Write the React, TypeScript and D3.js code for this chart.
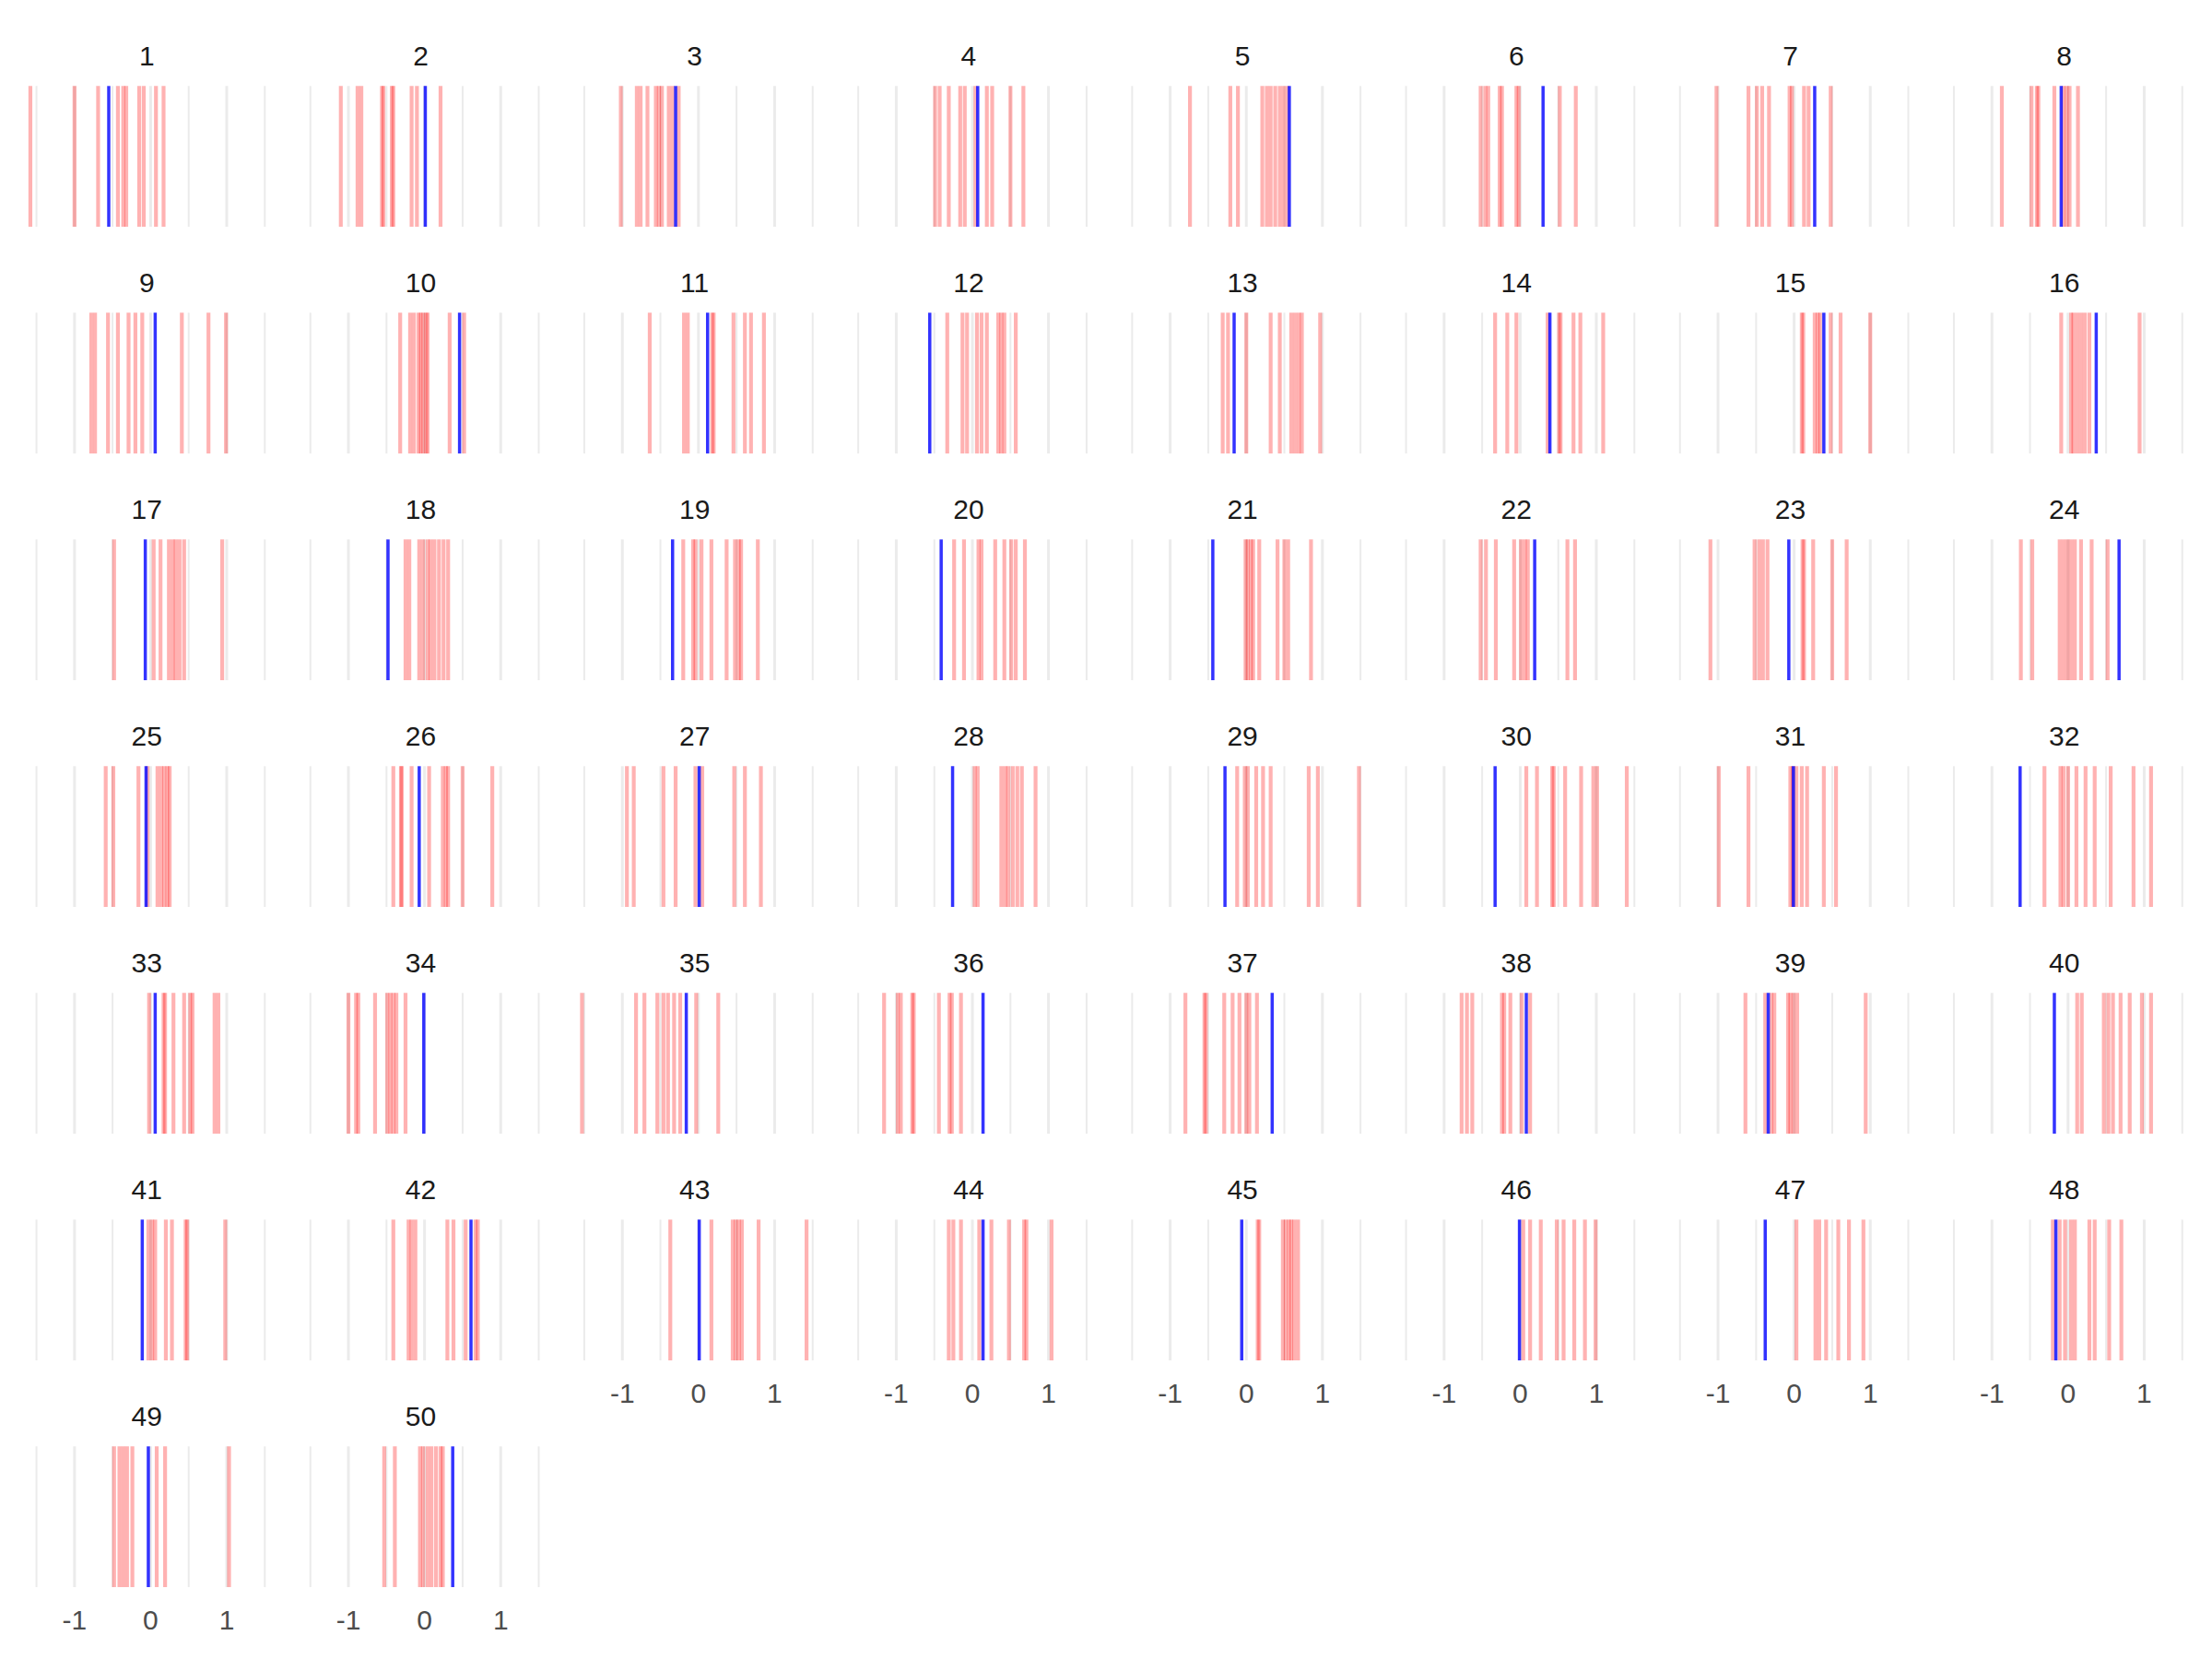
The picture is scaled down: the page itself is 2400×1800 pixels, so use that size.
import * as d3 from "d3";

// facet labels 1..50
const facetLabels = d3.range(1, 51).map(String);

// blue line per facet
const blueValues = [
  -0.55, 0.01, -0.3, 0.07, 0.565, 0.3, 0.27, -0.09,
  0.06, 0.46, 0.12, -0.56, -0.16, 0.39, 0.39, 0.37,
  -0.07, -0.48, -0.34, -0.41, -0.44, 0.19, -0.07, 0.67,
  -0.06, -0.07, 0.01, -0.26, -0.28, -0.33, -0.01, -0.63,
  0.06, -0.01, -0.16, 0.14, 0.34, 0.08, -0.34, -0.18,
  -0.11, 0.61, 0.01, 0.14, -0.06, -0.01, -0.38, -0.16,
  -0.03, 0.37,
];

// red lines per facet
const redValues: number[][] = [
  [-1.58, -1.0, -0.69, -0.43, -0.36, -0.32, -0.15, -0.09, 0.07, 0.17],
  [-1.1, -0.88, -0.83, -0.56, -0.54, -0.43, -0.41, -0.17, -0.1, 0.21],
  [-1.02, -0.81, -0.76, -0.67, -0.56, -0.52, -0.48, -0.39, -0.34, -0.26],
  [-0.49, -0.43, -0.31, -0.16, -0.1, 0.04, 0.19, 0.26, 0.5, 0.67],
  [-0.74, -0.21, -0.11, 0.21, 0.27, 0.32, 0.38, 0.44, 0.49, 0.54],
  [-0.52, -0.46, -0.42, -0.27, -0.24, -0.05, -0.02, 0.52, 0.73],
  [-1.02, -0.6, -0.49, -0.42, -0.33, -0.06, -0.03, 0.13, 0.19, 0.48],
  [-0.87, -0.48, -0.41, -0.39, -0.18, -0.06, -0.02, 0.02, 0.13],
  [-0.78, -0.73, -0.56, -0.43, -0.29, -0.2, -0.11, 0.41, 0.76, 0.99],
  [-0.32, -0.19, -0.14, -0.08, -0.05, -0.02, 0.02, 0.04, 0.33, 0.52],
  [-0.64, -0.19, -0.14, 0.18, 0.2, 0.46, 0.61, 0.69, 0.86],
  [-0.33, -0.13, -0.07, 0.06, 0.12, 0.19, 0.34, 0.38, 0.42, 0.57],
  [-0.31, -0.24, 0.0, 0.32, 0.44, 0.59, 0.64, 0.69, 0.73, 0.97],
  [-0.33, -0.17, -0.05, 0.36, 0.51, 0.53, 0.7, 0.79, 1.09],
  [0.1, 0.12, 0.27, 0.31, 0.34, 0.48, 0.61, 1.0],
  [-0.09, 0.04, 0.07, 0.12, 0.17, 0.22, 0.28, 0.94],
  [-0.48, 0.04, 0.13, 0.24, 0.29, 0.33, 0.38, 0.44, 0.94],
  [-0.25, -0.2, -0.07, -0.02, 0.04, 0.08, 0.13, 0.19, 0.25, 0.31],
  [-0.2, -0.07, -0.04, 0.04, 0.17, 0.37, 0.48, 0.53, 0.56, 0.78],
  [-0.24, -0.11, 0.08, 0.12, 0.3, 0.42, 0.51, 0.57, 0.69],
  [-0.01, 0.02, 0.06, 0.09, 0.17, 0.41, 0.5, 0.55, 0.85],
  [-0.52, -0.45, -0.32, -0.08, 0.01, 0.06, 0.1, 0.62, 0.72],
  [-1.1, -0.52, -0.46, -0.41, -0.35, 0.11, 0.13, 0.25, 0.5, 0.69],
  [-0.62, -0.47, -0.11, -0.06, -0.01, 0.04, 0.09, 0.17, 0.31, 0.52],
  [-0.59, -0.49, -0.16, -0.04, 0.09, 0.14, 0.18, 0.22, 0.25],
  [-0.41, -0.31, -0.3, -0.17, 0.06, 0.24, 0.28, 0.31, 0.5, 0.89],
  [-0.94, -0.85, -0.46, -0.3, -0.04, 0.05, 0.47, 0.61, 0.82],
  [0.03, 0.07, 0.38, 0.43, 0.47, 0.53, 0.59, 0.65, 0.83],
  [-0.12, -0.02, 0.02, 0.13, 0.22, 0.32, 0.82, 0.94, 1.48],
  [0.08, 0.22, 0.42, 0.44, 0.59, 0.8, 0.96, 1.01, 1.4],
  [-0.99, -0.6, -0.05, -0.02, 0.03, 0.1, 0.17, 0.39, 0.55],
  [-0.31, -0.1, -0.06, 0.0, 0.11, 0.23, 0.35, 0.56, 0.86, 1.09],
  [-0.02, 0.17, 0.19, 0.3, 0.44, 0.52, 0.55, 0.84, 0.89],
  [-1.0, -0.9, -0.87, -0.65, -0.49, -0.45, -0.41, -0.37, -0.25],
  [-1.53, -0.82, -0.71, -0.54, -0.46, -0.4, -0.32, -0.24, -0.03, 0.26],
  [-1.16, -0.98, -0.94, -0.79, -0.77, -0.44, -0.3, -0.27, -0.15],
  [-0.8, -0.55, -0.53, -0.29, -0.18, -0.09, 0.0, 0.04, 0.14],
  [-0.77, -0.7, -0.63, -0.24, -0.21, -0.13, 0.02, 0.13],
  [-0.64, -0.38, -0.3, -0.26, -0.08, -0.05, -0.01, 0.04, 0.94],
  [0.12, 0.18, 0.47, 0.53, 0.59, 0.69, 0.81, 0.97, 1.09],
  [-0.03, 0.02, 0.06, 0.2, 0.28, 0.46, 0.48, 0.98],
  [-0.41, -0.21, -0.17, -0.12, 0.3, 0.38, 0.54, 0.67, 0.7],
  [-0.37, 0.17, 0.45, 0.49, 0.53, 0.57, 0.79, 1.42],
  [-0.31, -0.25, -0.15, 0.09, 0.25, 0.48, 0.68, 0.71, 1.04],
  [0.15, 0.17, 0.48, 0.52, 0.56, 0.59, 0.63, 0.68],
  [0.04, 0.13, 0.27, 0.48, 0.57, 0.71, 0.85, 0.99],
  [0.03, 0.28, 0.33, 0.42, 0.58, 0.72, 0.91],
  [-0.2, -0.11, -0.04, 0.04, 0.09, 0.28, 0.35, 0.54, 0.7],
  [-0.48, -0.41, -0.36, -0.31, -0.24, 0.08, 0.19, 1.03],
  [-0.53, -0.39, -0.06, -0.02, 0.04, 0.09, 0.15, 0.21, 0.24],
];

const majorBreaks = [-1, 0, 1];
const minorBreaks = [-1.5, -0.5, 0.5, 1.5];
const tickLabels = ["-1", "0", "1"];

const W = 2400;
const H = 1800;
const nCols = 8;
const panelW = 278;
const panelH = 152.7;
const colPitch = 297.2;
const rowPitch = 246;
const left0 = 20.3;
const top0 = 93.3;
const font = "'Liberation Sans', Arial, Helvetica, sans-serif";

// shared x scale: data range expanded by 5% on each side
const allValues = redValues.flat().concat(blueValues);
const [dMin, dMax] = d3.extent(allValues) as [number, number];
const pad = (dMax - dMin) * 0.05;
const x = d3.scaleLinear().domain([dMin - pad, dMax + pad]).range([0, panelW]);

export default function App() {
  const n = facetLabels.length;
  return (
    <div style={{ position: "absolute", left: 0, top: 0 }}>
      <svg width={W} height={H} style={{ display: "block", background: "#fff" }}>
        {facetLabels.map((lab, i) => {
          const col = i % nCols;
          const row = Math.floor(i / nCols);
          const px = left0 + col * colPitch;
          const py = top0 + row * rowPitch;
          const isBottom = i + nCols >= n;
          return (
            <g key={lab} transform={`translate(${px},${py})`}>
              <text
                x={panelW / 2}
                y={-22}
                textAnchor="middle"
                fontFamily={font}
                fontSize={30}
                fill="#1A1A1A"
              >
                {lab}
              </text>
              {minorBreaks.map((b) => (
                <line key={`m${b}`} x1={x(b)} x2={x(b)} y1={0} y2={panelH} stroke="#EBEBEB" strokeWidth={2} />
              ))}
              {majorBreaks.map((b) => (
                <line key={`M${b}`} x1={x(b)} x2={x(b)} y1={0} y2={panelH} stroke="#EBEBEB" strokeWidth={3} />
              ))}
              {redValues[i].map((v, j) => (
                <line
                  key={`r${j}`}
                  x1={x(v)}
                  x2={x(v)}
                  y1={0}
                  y2={panelH}
                  stroke="red"
                  strokeOpacity={0.3}
                  strokeWidth={4.2}
                />
              ))}
              <line
                x1={x(blueValues[i])}
                x2={x(blueValues[i])}
                y1={0}
                y2={panelH}
                stroke="blue"
                strokeOpacity={0.8}
                strokeWidth={3.5}
              />
              {isBottom &&
                majorBreaks.map((b, k) => (
                  <text
                    key={`t${b}`}
                    x={x(b)}
                    y={panelH + 46}
                    textAnchor="middle"
                    fontFamily={font}
                    fontSize={30}
                    fill="#4D4D4D"
                  >
                    {tickLabels[k]}
                  </text>
                ))}
            </g>
          );
        })}
      </svg>
    </div>
  );
}
